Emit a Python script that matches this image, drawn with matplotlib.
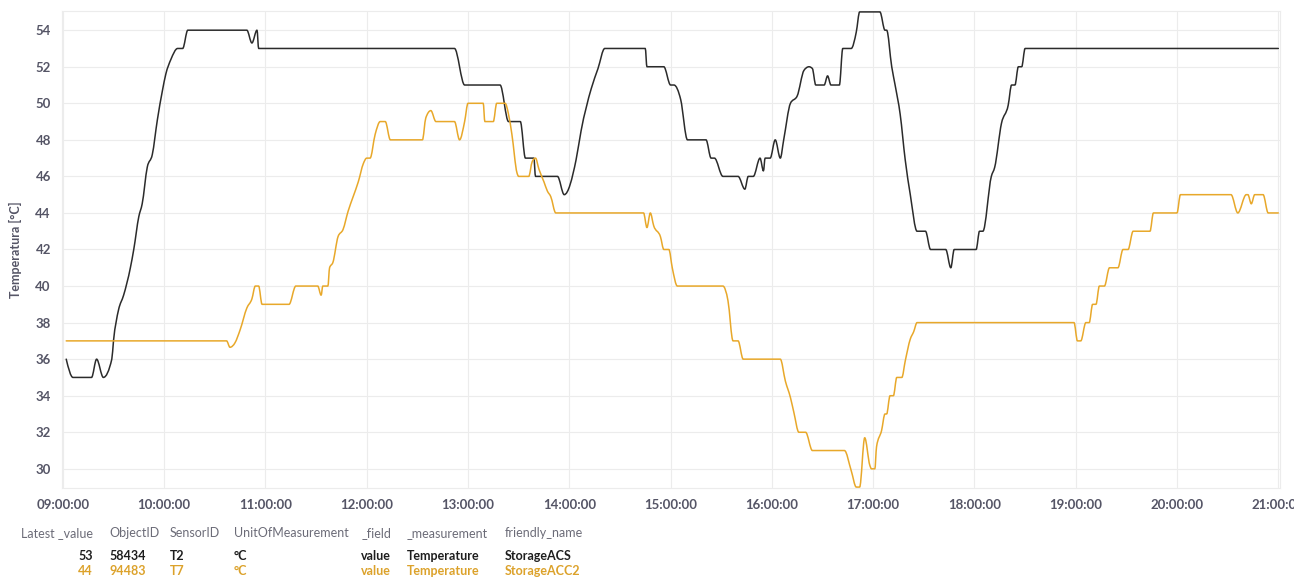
import matplotlib
matplotlib.use("Agg")
import matplotlib.pyplot as plt
import matplotlib.dates as mdates
from matplotlib.path import Path
from matplotlib.patches import PathPatch
import numpy as np
import pandas as pd

DAY = "2024-01-01 "

# StorageACS (T2) - black series
acs_times = ["09:02", "09:06", "09:17", "09:20", "09:24", "09:29", "09:30", "09:33", "09:36", "09:40",
             "09:42", "09:45", "09:47", "09:50", "09:53", "09:56", "09:59", "10:01", "10:04", "10:08",
             "10:11", "10:14", "10:49", "10:52", "10:55", "10:56", "12:52", "12:58", "13:19", "13:24",
             "13:31", "13:34", "13:39", "13:40", "13:53", "13:57", "14:04", "14:07", "14:13", "14:17",
             "14:21", "14:45", "14:46", "14:56", "15:00", "15:02", "15:06", "15:10", "15:21", "15:24",
             "15:26", "15:31", "15:40", "15:44", "15:46", "15:49", "15:53", "15:55", "15:56", "15:59",
             "16:02", "16:05", "16:07", "16:11", "16:15", "16:19", "16:22", "16:24", "16:26", "16:31",
             "16:33", "16:35", "16:40", "16:42", "16:47", "16:50", "16:52", "17:04", "17:07", "17:08",
             "17:11", "17:13", "17:16", "17:19", "17:22", "17:26", "17:31", "17:34", "17:43", "17:46",
             "17:48", "18:01", "18:03", "18:05", "18:10", "18:12", "18:16", "18:20", "18:22", "18:24",
             "18:26", "18:28", "18:30", "21:00"]
acs_values = [36, 35, 35, 36, 35, 36, 37, 38.7, 39.5, 41,
              42, 43.8, 44.5, 46.5, 47.2, 49.1, 50.7, 51.6, 52.4, 53,
              53, 54, 54, 53.3, 54, 53, 53, 51, 51, 49,
              49, 47, 47, 46, 46, 45, 46.9, 48.5, 50.8, 51.9,
              53, 53, 52, 52, 51, 51, 50.2, 48, 48, 47,
              47, 46, 46, 45.3, 46, 46, 47, 46.3, 47, 47,
              48, 47, 48, 50, 50.4, 51.8, 52, 51.9, 51, 51,
              51.5, 51, 51, 53, 53, 53.9, 55, 55, 54, 54,
              52, 51, 49.4, 46.9, 45, 43, 43, 42, 42, 41,
              42, 42, 43, 43, 46, 46.5, 48.9, 49.9, 51, 51,
              52, 52, 53, 53]

# StorageACC2 (T7) - yellow series
acc2_times = ["09:02", "10:37", "10:39", "10:42", "10:45", "10:49", "10:52", "10:54", "10:56", "10:58",
              "11:14", "11:18", "11:31", "11:33", "11:34", "11:37", "11:38", "11:40", "11:43", "11:46",
              "11:49", "11:52", "11:55", "11:58", "12:00", "12:02", "12:05", "12:08", "12:11", "12:14",
              "12:33", "12:35", "12:38", "12:41", "12:52", "12:55", "12:58", "13:00", "13:09", "13:10",
              "13:15", "13:17", "13:22", "13:24", "13:26", "13:29", "13:30", "13:36", "13:38", "13:40",
              "13:42", "13:45", "13:47", "13:49", "13:52", "14:44", "14:46", "14:48", "14:50", "14:54",
              "14:56", "14:59", "15:01", "15:04", "15:31", "15:34", "15:37", "15:40", "15:43", "16:05",
              "16:08", "16:11", "16:13", "16:16", "16:20", "16:24", "16:43", "16:47", "16:50", "16:52",
              "16:55", "16:58", "16:59", "17:01", "17:02", "17:05", "17:07", "17:08", "17:10", "17:12",
              "17:14", "17:17", "17:19", "17:22", "17:24", "17:26", "18:59", "19:01", "19:03", "19:06",
              "19:08", "19:10", "19:12", "19:14", "19:17", "19:20", "19:25", "19:28", "19:31", "19:34",
              "19:44", "19:46", "20:00", "20:02", "20:32", "20:36", "20:41", "20:42", "20:44", "20:46",
              "20:51", "20:54", "21:00"]
acc2_values = [37, 37, 36.65, 36.9, 37.6, 38.8, 39.3, 40, 40, 39,
               39, 40, 40, 39.5, 40, 40, 41, 41.3, 42.7, 43.1,
               44.1, 44.9, 45.7, 46.7, 47, 47, 48.3, 49, 49, 48,
               48, 49.2, 49.6, 49, 49, 48, 49, 50, 50, 49,
               49, 50, 50, 49.4, 48.3, 46.2, 46, 46, 46.8, 47,
               46.4, 45.7, 45.2, 44.9, 44, 44, 43.2, 44, 43.3, 42.7,
               42, 42, 41, 40, 40, 39.2, 37, 37, 36, 36,
               34.8, 33.9, 33.1, 32, 32, 31, 31, 29.9, 29, 29,
               31.7, 30.2, 30, 30, 31.2, 32.1, 33, 33, 34, 34,
               35, 35, 35.9, 37.1, 37.5, 38, 38, 37, 37, 38,
               38, 39, 39, 40, 40, 41, 41, 42, 42, 43,
               43, 44, 44, 45, 45, 44, 45, 45, 44.5, 45,
               45, 44, 44]

# legend table
table_headers = ["Latest _value", "ObjectID", "SensorID", "UnitOfMeasurement",
                 "_field", "_measurement", "friendly_name"]
table_rows = [["53", "58434", "T2", "°C", "value", "Temperature", "StorageACS"],
              ["44", "94483", "T7", "°C", "value", "Temperature", "StorageACC2"]]

series_colors = ["#2b2b2b", "#e8a82a"]
text_colors = ["#1e1e1e", "#dca22b"]


def monotone_path(x, y):
    """Smooth monotone (d3 curveMonotoneX style) Bezier path through the given points."""
    x = np.asarray(x, float)
    y = np.asarray(y, float)
    n = len(x)
    h = np.diff(x)
    s = np.diff(y) / h
    t = np.zeros(n)
    for k in range(1, n - 1):
        s0, s1, h0, h1 = s[k - 1], s[k], h[k - 1], h[k]
        p = (s0 * h1 + s1 * h0) / (h0 + h1)
        t[k] = (np.sign(s0) + np.sign(s1)) * min(abs(s0), abs(s1), 0.5 * abs(p))
    t[0] = (3 * s[0] - t[1]) / 2
    t[-1] = (3 * s[-1] - t[-2]) / 2
    verts = [(x[0], y[0])]
    codes = [Path.MOVETO]
    for k in range(n - 1):
        dx = h[k] / 3
        verts += [(x[k] + dx, y[k] + dx * t[k]), (x[k + 1] - dx, y[k + 1] - dx * t[k + 1]),
                  (x[k + 1], y[k + 1])]
        codes += [Path.CURVE4] * 3
    return Path(verts, codes)


W, H = 1294, 581
plt.rcParams["font.family"] = ["Lato", "DejaVu Sans"]
fig = plt.figure(figsize=(W / 100, H / 100), dpi=100)
ax = fig.add_axes([62 / W, 1 - 488 / H, (1280 - 62) / W, (488 - 11) / H])

for times, vals, col in [(acs_times, acs_values, series_colors[0]),
                         (acc2_times, acc2_values, series_colors[1])]:
    xs = mdates.date2num(pd.to_datetime([DAY + tt for tt in times]))
    ax.add_patch(PathPatch(monotone_path(xs, vals), fill=False, edgecolor=col,
                           lw=1.1, joinstyle="round", capstyle="round", zorder=3))

ax.set_xlim(pd.Timestamp(DAY + "08:59:30"), pd.Timestamp(DAY + "21:01:00"))
ax.set_ylim(28.95, 55.05)
ax.set_yticks(range(30, 55, 2))
ax.xaxis.set_major_locator(mdates.HourLocator())
ax.xaxis.set_major_formatter(mdates.DateFormatter("%H:%M:%S"))

ax.grid(True, color="#ececec", lw=0.8)
ax.set_axisbelow(True)
for sp in ax.spines.values():
    sp.set_color("#ececec")
    sp.set_linewidth(0.8)
ax.tick_params(length=0, pad=8, labelsize=9.5, labelcolor="#555566")
for lab in ax.get_xticklabels() + ax.get_yticklabels():
    lab.set_fontweight("bold")

fig.text(15 / W, 1 - 250 / H, "Temperatura [°C]", rotation=90, ha="center", va="center",
         fontsize=9, fontweight="bold", color="#555566")

# table below the chart
col_x = [93, 109, 170, 234, 391, 407, 505]
col_ha = ["right", "left", "left", "left", "right", "left", "left"]
for i, hd in enumerate(table_headers):
    fig.text(col_x[i] / W, 1 - 533 / H, hd, ha=col_ha[i], va="center",
             fontsize=9, color="#6c6c78")
row_y = [556, 571]
for r, row in enumerate(table_rows):
    for i, v in enumerate(row):
        fig.text(col_x[i] / W, 1 - row_y[r] / H, v, ha=col_ha[i], va="center",
                 fontsize=9, fontweight="bold", color=text_colors[r])

fig.savefig("out.png", dpi=100, facecolor="white")
